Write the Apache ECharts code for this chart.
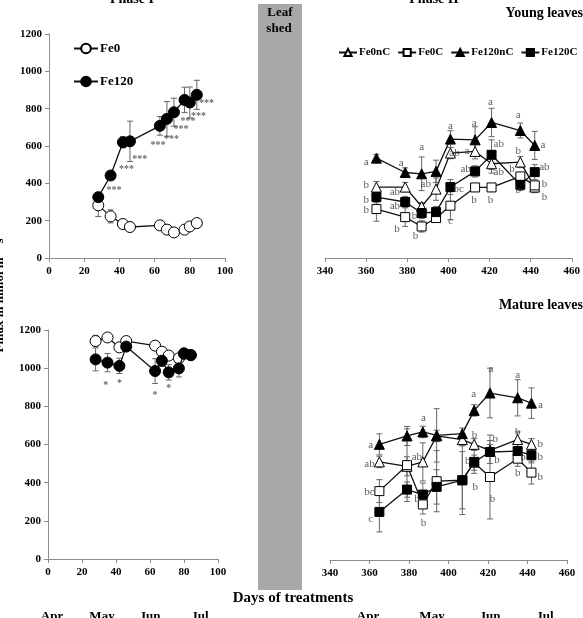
<!DOCTYPE html>
<html>
<head>
<meta charset="utf-8">
<script src="https://cdn.jsdelivr.net/npm/echarts@6/dist/echarts.min.js"></script>
<style>
  html, body { margin: 0; padding: 0; background: #fff; }
  #chart { width: 583px; height: 618px; }
</style>
</head>
<body>
<div id="chart"></div>
<script>
  // Phase I (days of treatment)
  const daysI = [28, 35, 42, 46, 63, 67, 71, 77, 80, 84];
  const youngFe0 = [282, 223, 182, 166, 175, 152, 137, 152, 169, 187];
  const youngFe0Err = [60, 35, 15, 10, 12, 10, 10, 12, 12, 12];
  const youngFe120 = [326, 442, 620, 625, 708, 745, 781, 847, 833, 874];
  const youngFe120Err = [20, 15, 30, 108, 50, 93, 75, 68, 83, 78];
  const matureFe0 = [1142, 1161, 1109, 1142, 1118, 1086, 1066, 1052, 1075, 1068];
  const matureFe0Err = [30, 15, 10, 10, 15, 10, 10, 10, 10, 10];
  const matureFe120 = [1046, 1029, 1012, 1113, 985, 1039, 978, 999, 1078, 1069];
  const matureFe120Err = [60, 48, 40, 15, 65, 30, 40, 45, 15, 15];

  // Phase II
  const daysYoung = [365, 379, 387, 394, 401, 413, 421, 435, 442];
  const daysMature = [365, 379, 387, 394, 407, 413, 421, 435, 442];
  const yFe0nC = [380, 380, 276, 369, 562, 571, 505, 514, 380];
  const yFe0nCErr = [30, 25, 20, 60, 30, 40, 50, 30, 30];
  const yFe0C = [262, 219, 169, 214, 280, 378, 378, 437, 389];
  const yFe0CErr = [65, 50, 30, 20, 75, 20, 20, 20, 20];
  const yFe120nC = [535, 458, 451, 464, 637, 633, 726, 683, 603];
  const yFe120nCErr = [20, 25, 90, 60, 45, 70, 76, 40, 75];
  const yFe120C = [326, 300, 241, 246, 380, 464, 553, 392, 460];
  const yFe120CErr = [30, 30, 30, 30, 40, 30, 80, 30, 40];

  const mFe0nC = [514, 491, 514, 650, 631, 606, 575, 631, 606];
  const mFe0nCErr = [30, 50, 100, 30, 30, 30, 30, 40, 30];
  const mFe0C = [361, 497, 291, 413, 418, 510, 435, 531, 458];
  const mFe0CErr = [60, 190, 50, 160, 180, 40, 220, 40, 60];
  const mFe120nC = [606, 650, 671, 653, 662, 784, 875, 850, 822];
  const mFe120nCErr = [55, 50, 30, 140, 30, 30, 130, 95, 80];
  const mFe120C = [252, 369, 343, 383, 418, 514, 566, 571, 549];
  const mFe120CErr = [105, 40, 60, 90, 150, 60, 60, 50, 40];

  // significance marks [x, y, text]
  const starsYoung = [[37, 360, '***'], [44, 476, '***'], [51.6, 530, '***'], [62, 603, '***'], [69.6, 633, '***'],
    [75, 690, '***'], [79, 731, '***'], [85, 758, '***'], [89.5, 826, '***']];
  const starsMature = [[34, 912, '*'], [42, 921, '*'], [63, 855, '*'], [71, 895, '*']];
  const lettersYoung = [
    [360, 513, 'a'], [360, 392, 'b'], [360, 312, 'b'], [360, 255, 'b'],
    [377, 508, 'a'], [374, 353, 'ab'], [374, 280, 'ab'], [375, 155, 'b'], [384, 116, 'b'],
    [387, 592, 'a'], [389, 396, 'ab'], [383.5, 226, 'b'],
    [401, 707, 'a'], [403, 562, 'ab'], [405, 369, 'bc'], [401, 200, 'c'],
    [412.5, 725, 'a'], [409, 573, 'a'], [408.4, 477, 'ab'], [412.5, 310, 'b'],
    [420.5, 837, 'a'], [424.5, 610, 'ab'], [424.5, 462, 'ab'], [420.5, 310, 'b'],
    [434, 766, 'a'], [434, 575, 'b'], [431, 477, 'b'], [434, 364, 'b'],
    [446, 605, 'a'], [446.7, 487, 'ab'], [446.7, 396, 'b'], [446.7, 327, 'b']
  ];
  const lettersMature = [
    [360.6, 601, 'a'], [360, 505, 'ab'], [360, 354, 'bc'], [360.6, 213, 'c'],
    [387.3, 744, 'a'], [384, 540, 'ab'], [384, 319, 'b'], [387.3, 192, 'b'],
    [412.7, 871, 'a'], [413.2, 653, 'b'], [409.8, 519, 'b'], [413.5, 383, 'b'],
    [421.5, 1002, 'a'], [423.7, 632, 'b'], [424.5, 526, 'b'], [422.3, 317, 'b'],
    [435, 967, 'a'], [435, 671, 'b'], [437.7, 537, 'b'], [435, 453, 'b'],
    [446.5, 814, 'a'], [446.5, 605, 'b'], [446.5, 537, 'b'], [446.5, 435, 'b']
  ];
  const monthsI = [[52, 'Apr'], [102, 'May'], [150, 'Jun'], [200, 'Jul']];
  const monthsII = [[368, 'Apr'], [432, 'May'], [490, 'Jun'], [545, 'Jul']];

  const serif = '"Liberation Serif", "DejaVu Serif", serif';
  const axisGray = '#8c8c8c';

  function zip(xs, ys) {
    return xs.map((x, i) => [x, ys[i]]);
  }
  function zipErr(xs, ys, es) {
    return xs.map((x, i) => [x, ys[i], es[i]]);
  }

  function lineSeries(name, xs, ys, idx, symbol, size, filled) {
    return {
      name: name,
      type: 'line',
      xAxisIndex: idx,
      yAxisIndex: idx,
      data: zip(xs, ys),
      symbol: symbol,
      symbolSize: size,
      showAllSymbol: true,
      lineStyle: { color: '#111', width: 1.3 },
      itemStyle: { color: filled ? '#000' : '#fff', borderColor: '#000', borderWidth: 1 },
      z: filled ? 4 : 3,
      animation: false
    };
  }

  function errSeries(xs, ys, es, idx) {
    return {
      type: 'custom',
      xAxisIndex: idx,
      yAxisIndex: idx,
      data: zipErr(xs, ys, es),
      z: 2,
      silent: true,
      animation: false,
      renderItem: function (params, api) {
        const x = api.value(0), y = api.value(1), e = api.value(2);
        const hi = api.coord([x, y + e]);
        const lo = api.coord([x, y - e]);
        const style = { stroke: '#666', lineWidth: 1 };
        return {
          type: 'group',
          children: [
            { type: 'line', shape: { x1: hi[0], y1: hi[1], x2: lo[0], y2: lo[1] }, style: style },
            { type: 'line', shape: { x1: hi[0] - 3, y1: hi[1], x2: hi[0] + 3, y2: hi[1] }, style: style },
            { type: 'line', shape: { x1: lo[0] - 3, y1: lo[1], x2: lo[0] + 3, y2: lo[1] }, style: style }
          ]
        };
      }
    };
  }

  function textSeries(list, idx, fontSize, weight, color) {
    return {
      type: 'scatter',
      xAxisIndex: idx,
      yAxisIndex: idx,
      data: list,
      symbolSize: 0,
      silent: true,
      animation: false,
      z: 5,
      label: {
        show: true,
        position: 'inside',
        formatter: p => p.data[2],
        fontFamily: serif,
        fontSize: fontSize,
        fontWeight: weight,
        color: color
      }
    };
  }

  function xAx(idx, min, max) {
    return {
      gridIndex: idx,
      type: 'value',
      min: min,
      max: max,
      interval: 20,
      axisLine: { show: true, lineStyle: { color: axisGray, width: 1 } },
      axisTick: { show: true, length: 4, lineStyle: { color: axisGray } },
      axisLabel: { fontFamily: serif, fontWeight: 'bold', fontSize: 11, color: '#000', margin: 8, formatter: v => String(v) },
      splitLine: { show: false }
    };
  }
  function yAx(idx, visible) {
    return {
      gridIndex: idx,
      type: 'value',
      min: 0,
      max: 1200,
      interval: 200,
      show: visible,
      axisLine: { show: true, lineStyle: { color: axisGray, width: 1 } },
      axisTick: { show: true, length: 4, lineStyle: { color: axisGray } },
      axisLabel: { fontFamily: serif, fontWeight: 'bold', fontSize: 11, color: '#000', margin: 7, formatter: v => String(v) },
      splitLine: { show: false }
    };
  }

  const chart = echarts.init(document.getElementById('chart'));

  const graphics = [
    { type: 'rect', shape: { x: 258, y: 4, width: 44, height: 586 }, style: { fill: '#a8a8a8' }, z: -1 },
    { type: 'text', x: 280, y: 13, style: { text: 'Leaf', font: 'bold 13px ' + serif, fill: '#000', align: 'center', verticalAlign: 'middle' } },
    { type: 'text', x: 279, y: 29, style: { text: 'shed', font: 'bold 13px ' + serif, fill: '#000', align: 'center', verticalAlign: 'middle' } },
    { type: 'text', x: 132, y: -1, style: { text: 'Phase I', font: 'bold 14px ' + serif, fill: '#000', align: 'center', verticalAlign: 'middle' } },
    { type: 'text', x: 434, y: -1, style: { text: 'Phase II', font: 'bold 14px ' + serif, fill: '#000', align: 'center', verticalAlign: 'middle' } },
    { type: 'text', x: 583, y: 13, style: { text: 'Young leaves', font: 'bold 14px ' + serif, fill: '#000', align: 'right', verticalAlign: 'middle' } },
    { type: 'text', x: 583, y: 305, style: { text: 'Mature leaves', font: 'bold 14px ' + serif, fill: '#000', align: 'right', verticalAlign: 'middle' } },
    { type: 'text', x: 293, y: 598, style: { text: 'Days of treatments', font: 'bold 15px ' + serif, fill: '#000', align: 'center', verticalAlign: 'middle' } },
    { type: 'text', x: 0, y: 290, rotation: Math.PI / 2, style: { text: 'Fmax in mmol m\u207B\u00B2 s\u207B\u00B9', font: 'bold 13px ' + serif, fill: '#000', align: 'center', verticalAlign: 'middle' } }
  ];
  monthsI.concat(monthsII).forEach(m => {
    graphics.push({ type: 'text', x: m[0], y: 617, style: { text: m[1], font: 'bold 13px ' + serif, fill: '#000', align: 'center', verticalAlign: 'middle' } });
  });

  const option = {
    backgroundColor: '#fff',
    animation: false,
    grid: [
      { left: 49, top: 34, width: 176, height: 224 },
      { left: 325, top: 34, width: 248, height: 224 },
      { left: 48, top: 330, width: 170, height: 229 },
      { left: 330, top: 331, width: 237, height: 229 }
    ],
    xAxis: [xAx(0, 0, 100), xAx(1, 340, 460), xAx(2, 0, 100), xAx(3, 340, 460)],
    yAxis: [yAx(0, true), yAx(1, false), yAx(2, true), yAx(3, false)],
    legend: [
      {
        data: ['Fe0', 'Fe120'],
        orient: 'vertical',
        left: 73,
        top: 42,
        padding: 0,
        itemGap: 20,
        itemWidth: 24,
        itemHeight: 12,
        textStyle: { fontFamily: serif, fontWeight: 'bold', fontSize: 13, color: '#000', padding: [0, 0, 0, -3] }
      },
      {
        data: ['Fe0nC', 'Fe0C', 'Fe120nC', 'Fe120C'],
        left: 338,
        top: 47,
        width: 260,
        padding: 0,
        itemGap: 7,
        itemWidth: 18,
        itemHeight: 9,
        textStyle: { fontFamily: serif, fontWeight: 'bold', fontSize: 11, color: '#000', padding: [0, 0, 0, -3] }
      }
    ],
    graphic: graphics,
    series: [
      errSeries(daysI, youngFe0, youngFe0Err, 0),
      errSeries(daysI, youngFe120, youngFe120Err, 0),
      lineSeries('Fe0', daysI, youngFe0, 0, 'circle', 11, false),
      lineSeries('Fe120', daysI, youngFe120, 0, 'circle', 11, true),
      textSeries(starsYoung, 0, 10, 'bold', '#444'),

      errSeries(daysYoung, yFe0nC, yFe0nCErr, 1),
      errSeries(daysYoung, yFe0C, yFe0CErr, 1),
      errSeries(daysYoung, yFe120nC, yFe120nCErr, 1),
      errSeries(daysYoung, yFe120C, yFe120CErr, 1),
      lineSeries('Fe0nC', daysYoung, yFe0nC, 1, 'triangle', 10, false),
      lineSeries('Fe0C', daysYoung, yFe0C, 1, 'rect', 9, false),
      lineSeries('Fe120nC', daysYoung, yFe120nC, 1, 'triangle', 10, true),
      lineSeries('Fe120C', daysYoung, yFe120C, 1, 'rect', 9, true),
      textSeries(lettersYoung, 1, 11, 'normal', '#333'),

      errSeries(daysI, matureFe0, matureFe0Err, 2),
      errSeries(daysI, matureFe120, matureFe120Err, 2),
      lineSeries('Fe0', daysI, matureFe0, 2, 'circle', 11, false),
      lineSeries('Fe120', daysI, matureFe120, 2, 'circle', 11, true),
      textSeries(starsMature, 2, 10, 'bold', '#444'),

      errSeries(daysMature, mFe0nC, mFe0nCErr, 3),
      errSeries(daysMature, mFe0C, mFe0CErr, 3),
      errSeries(daysMature, mFe120nC, mFe120nCErr, 3),
      errSeries(daysMature, mFe120C, mFe120CErr, 3),
      lineSeries('Fe0nC', daysMature, mFe0nC, 3, 'triangle', 10, false),
      lineSeries('Fe0C', daysMature, mFe0C, 3, 'rect', 9, false),
      lineSeries('Fe120nC', daysMature, mFe120nC, 3, 'triangle', 10, true),
      lineSeries('Fe120C', daysMature, mFe120C, 3, 'rect', 9, true),
      textSeries(lettersMature, 3, 11, 'normal', '#333')
    ]
  };
  chart.setOption(option);
</script>
</body>
</html>
